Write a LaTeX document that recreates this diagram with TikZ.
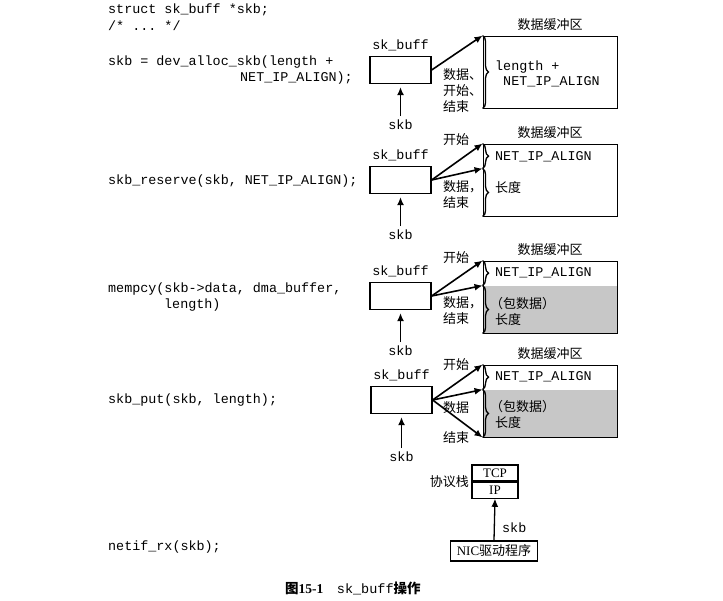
\documentclass[tikz,border=0pt]{standalone}
\usepackage{fontspec}
\setmainfont{Liberation Serif}
\setmonofont{Liberation Mono}
\newfontfamily\cjk{Noto Sans CJK SC}
\usetikzlibrary{positioning, decorations.pathreplacing}
\usetikzlibrary{arrows.meta}
\tikzset{>={Latex[width=7pt,length=8pt]}}
\newcommand\codesize{\fontsize{13.4}{16}\selectfont}

\begin{document}
\begin{tikzpicture}[x=1pt, y=-1pt, codeline/.style={font=\ttfamily\codesize, anchor=west, inner sep=0pt}, ttlabel/.style={font=\ttfamily\codesize, inner sep=0pt}, cntext/.style={font=\cjk\fontsize{13}{16}\selectfont, inner sep=0pt, align=left}, skbox/.style={draw, line width=1.3pt, minimum width=61pt, minimum height=27pt, inner sep=0pt}, bufbox/.style={draw, line width=0.9pt, minimum width=134pt, minimum height=72pt, inner sep=0pt}, pktfill/.style={path picture={\fill[black!22] ([yshift=-25pt]path picture bounding box.north west) rectangle (path picture bounding box.south east);}}, ptr/.style={->, line width=1.6pt}, upptr/.style={->, line width=1.3pt, shorten >=3pt, shorten <=3pt}, brc/.style={decorate, decoration={brace, amplitude=6pt}, line width=1.3pt}, protobox/.style={draw, line width=1.2pt, minimum width=46pt, minimum height=16pt, inner sep=0pt, font=\fontsize{13}{15}\selectfont}]
    \useasboundingbox (0,0) rectangle (723,601);

    %Code
    \node[codeline](c1) at (108,10){struct sk\_buff *skb;};
    \node[codeline](c2) at (108,26){/* ... */};
    \node[codeline](c3) at (108,62){skb = dev\_alloc\_skb(length +};
    \node[codeline](c4) at (240,78){NET\_IP\_ALIGN);};
    \node[codeline](c5) at (108,181){skb\_reserve(skb, NET\_IP\_ALIGN);};
    \node[codeline](c6) at (108,289){mempcy(skb->data, dma\_buffer,};
    \node[codeline](c7) at (164,305){length)};
    \node[codeline](c8) at (108,400){skb\_put(skb, length);};
    \node[codeline](c9) at (108,547){netif\_rx(skb);};

    %Block 1: alloc
    \node[skbox](sb1) at (400.5,70){};
    \node[ttlabel](sbl1)[above=5pt of sb1]{sk\_buff};
    \node[ttlabel](p1)[below=35pt of sb1]{skb};
    \node[bufbox](buf1) at (550,72){};
    \node[cntext](t1)[above=5pt of buf1]{数据缓冲区};
    \node[ttlabel, align=left, anchor=west, font=\ttfamily\fontsize{13.4}{14.5}\selectfont](d1) at (495,74){length +\\\phantom{x}NET\_IP\_ALIGN};
    \node[cntext, anchor=west](l1) at (443,91){数据、\\开始、\\结束};

    %Block 2: reserve
    \node[skbox](sb2) at (400.5,180){};
    \node[ttlabel](sbl2)[above=5pt of sb2]{sk\_buff};
    \node[ttlabel](p2)[below=35pt of sb2]{skb};
    \node[bufbox](buf2) at (550,180){};
    \node[cntext](t2)[above=5pt of buf2]{数据缓冲区};
    \coordinate(s2) at ([yshift=-25pt]buf2.north west);
    \node[ttlabel, anchor=west](n2) at (495,157){NET\_IP\_ALIGN};
    \node[cntext, anchor=west](d2) at (495,188){长度};
    \node[cntext, anchor=west](k2) at (443,140){开始};
    \node[cntext, anchor=west](l2) at (443,195){数据，\\结束};

    %Block 3: memcpy
    \node[skbox](sb3) at (400.5,296){};
    \node[ttlabel](sbl3)[above=5pt of sb3]{sk\_buff};
    \node[ttlabel](p3)[below=35pt of sb3]{skb};
    \node[bufbox, pktfill](buf3) at (550,297){};
    \node[cntext](t3)[above=5pt of buf3]{数据缓冲区};
    \coordinate(s3) at ([yshift=-25pt]buf3.north west);
    \node[ttlabel, anchor=west](n3) at (495,273){NET\_IP\_ALIGN};
    \node[cntext, anchor=west](d3) at (490,311){（包数据）\\\hspace{5pt}长度};
    \node[cntext, anchor=west](k3) at (443,258){开始};
    \node[cntext, anchor=west](l3) at (443,311){数据，\\结束};

    %Block 4: put
    \node[skbox](sb4) at (401.5,400){};
    \node[ttlabel](sbl4)[above=5pt of sb4]{sk\_buff};
    \node[ttlabel](p4)[below=37pt of sb4]{skb};
    \node[bufbox, pktfill](buf4) at (550,401){};
    \node[cntext](t4)[above=5pt of buf4]{数据缓冲区};
    \coordinate(s4) at ([yshift=-25pt]buf4.north west);
    \node[ttlabel, anchor=west](n4) at (495,377){NET\_IP\_ALIGN};
    \node[cntext, anchor=west](d4) at (490,414){（包数据）\\\hspace{5pt}长度};
    \node[cntext, anchor=west](k4) at (443,365){开始};
    \node[cntext, anchor=west](m4) at (443,408){数据};
    \node[cntext, anchor=west](e4) at (443,438){结束};

    %Block 5: netif_rx
    \node[protobox](tcp) at (495,473){TCP};
    \node[protobox](ip)[below=0pt of tcp]{IP};
    \node[cntext, anchor=east](stack) at (469,482){协议栈};
    \node[draw, line width=1.2pt, minimum width=87pt, minimum height=20pt, inner sep=0pt, font=\fontsize{13}{15}\selectfont](nic) at (494,551){NIC{\cjk 驱动程序}};
    \node[ttlabel, anchor=west](p5) at (502,528){skb};

    %Caption
    \node[anchor=west, inner sep=0pt, font=\fontsize{13.5}{16}\selectfont](cap) at (285,588){{\cjk\bfseries 图}\textbf{15-1}\hspace{1em}{\ttfamily sk\_buff}{\cjk\bfseries 操作}};

    %Lines
    \draw[brc] (buf1.north west) -- (buf1.south west);
    \draw[ptr] (sb1.east) -- (buf1.north west);
    \draw[upptr] (p1) -- (sb1);

    \draw[brc] (buf2.north west) -- (s2);
    \draw[brc] (s2) -- (buf2.south west);
    \draw[ptr] (sb2.east) -- (buf2.north west);
    \draw[ptr] (sb2.east) -- (s2);
    \draw[upptr] (p2) -- (sb2);

    \draw[brc] (buf3.north west) -- (s3);
    \draw[brc] (s3) -- (buf3.south west);
    \draw[ptr] (sb3.east) -- (buf3.north west);
    \draw[ptr] (sb3.east) -- (s3);
    \draw[upptr] (p3) -- (sb3);

    \draw[brc] (buf4.north west) -- (s4);
    \draw[brc] (s4) -- (buf4.south west);
    \draw[ptr] (sb4.east) -- (buf4.north west);
    \draw[ptr] (sb4.east) -- (s4);
    \draw[ptr] (sb4.east) -- (buf4.south west);
    \draw[upptr] (p4) -- (sb4);

    \draw[upptr, shorten <=0pt, shorten >=0pt] (nic.north) -- (ip.south);

\end{tikzpicture}
\end{document}
